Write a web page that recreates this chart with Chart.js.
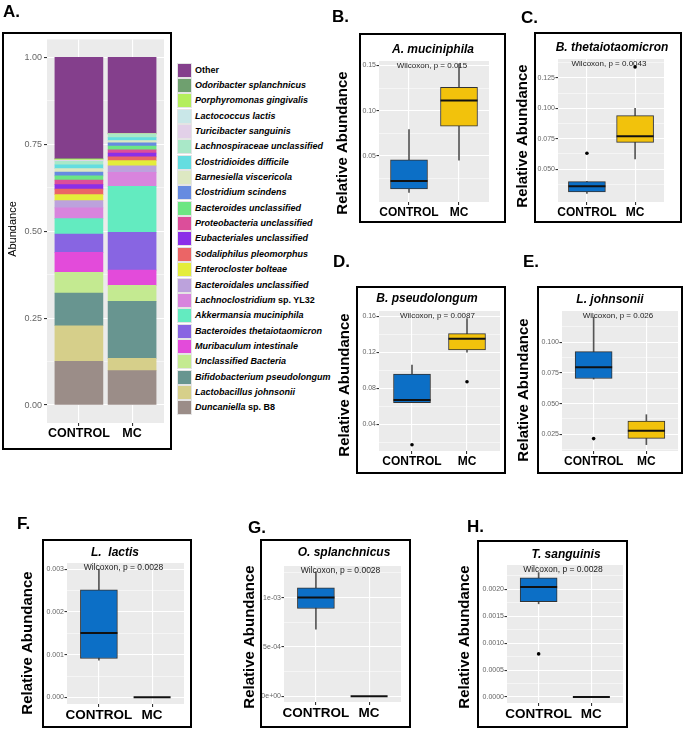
<!DOCTYPE html>
<html>
<head>
<meta charset="utf-8">
<script src="https://cdn.jsdelivr.net/npm/chart.js@4.4.0/dist/chart.umd.min.js"></script>
<style>
  body { margin: 0; width: 685px; height: 731px; background: #fff; position: relative; overflow: hidden;
         font-family: "Liberation Sans", Arial, sans-serif; }
  canvas, .frame, .tag, #legend { position: absolute; }
  .frame { border: 2px solid #000; box-sizing: border-box; pointer-events: none; }
  .tag { font-weight: bold; font-size: 17px; line-height: 1; }
  .key { position: absolute; left: 0; width: 15px; height: 15px; box-sizing: border-box; border: 1px solid #e4e4e4; }
  .name { position: absolute; left: 18px; font-size: 9px; font-weight: bold; white-space: nowrap; line-height: 15px; }
</style>
</head>
<body>
<div id="legend" style="left:177px;top:0"></div>
<script>
const FONT = '"Liberation Sans", Arial, sans-serif';
const groups = ['CONTROL', 'MC'];

// ---- panel A : stacked relative abundance (bottom of the stack first) ----
const taxa = ['Duncaniella sp. B8', 'Lactobacillus johnsonii', 'Bifidobacterium pseudolongum',
  'Unclassified Bacteria', 'Muribaculum intestinale', 'Bacteroides thetaiotaomicron',
  'Akkermansia muciniphila', 'Lachnoclostridium sp. YL32', 'Bacteroidales unclassified',
  'Enterocloster bolteae', 'Sodaliphilus pleomorphus', 'Eubacteriales unclassified',
  'Proteobacteria unclassified', 'Bacteroides unclassified', 'Clostridium scindens',
  'Barnesiella viscericola', 'Clostridioides difficile', 'Lachnospiraceae unclassified',
  'Turicibacter sanguinis', 'Lactococcus lactis', 'Porphyromonas gingivalis',
  'Odoribacter splanchnicus', 'Other'];
const taxaColors = ['#9b8d88', '#d6cf8a', '#689590', '#c4ea91', '#e34bda', '#8865e2',
  '#63ebc0', '#d884dd', '#bca2dc', '#e4ed3b', '#eb6566', '#8b2fe8', '#dc4e9a', '#6ce683',
  '#668be0', '#dde8c2', '#64dde0', '#a9e8c8', '#e2d0e8', '#c9e7e8', '#b4ee5c', '#6fa06f', '#843f8c'];
const controlShare = [0.126, 0.102, 0.094, 0.060, 0.057, 0.053, 0.044, 0.031, 0.021, 0.017, 0.016,
  0.013, 0.013, 0.012, 0.011, 0.010, 0.011, 0.010, 0.002, 0.0015, 0.003, 0.001, 0.2915];
const mcShare = [0.099, 0.035, 0.164, 0.046, 0.044, 0.109, 0.132, 0.040, 0.019, 0.015, 0.011,
  0.011, 0.009, 0.011, 0.009, 0.007, 0.008, 0.010, 0, 0, 0.002, 0, 0.219];
const shareTicks = [0, 0.125, 0.25, 0.375, 0.5, 0.625, 0.75, 0.875, 1];
const shareMajor = [0, 0.25, 0.5, 0.75, 1];
const shareLabels = ['0.00', '0.25', '0.50', '0.75', '1.00'];

// ---- panels B-H : box plots, [low whisker, q1, median, q3, high whisker] ----
const mucControl = [0.0095, 0.0135, 0.0223, 0.0456, 0.0792];
const mucMC = [0.0453, 0.0828, 0.1113, 0.126, 0.152];
const thetaControl = [0.030, 0.0313, 0.036, 0.0398, 0.040];
const thetaMC = [0.0585, 0.072, 0.077, 0.094, 0.100];
const pseudoControl = [0.064, 0.0641, 0.0671, 0.0958, 0.1058];
const pseudoMC = [0.120, 0.1226, 0.1349, 0.1405, 0.1573];
const johnControl = [0.070, 0.0705, 0.0797, 0.0924, 0.1203];
const johnMC = [0.0166, 0.0217, 0.028, 0.0358, 0.041];
const lactisControl = [0.00087, 0.00091, 0.00151, 0.00252, 0.0030];
const lactisMC = [0, 0, 0, 0, 0];
const splanControl = [0.00068, 0.00089, 0.0010, 0.0011, 0.00126];
const splanMC = [0, 0, 0, 0, 0];
const sangControl = [0.00173, 0.00177, 0.00204, 0.00221, 0.00231];
const sangMC = [0, 0, 0, 0, 0];
// outliers
const thetaOutControl = [0.063], thetaOutMC = [0.134];
const pseudoOutControl = [0.0175], pseudoOutMC = [0.0872];
const johnOutControl = [0.0215];
const sangOutControl = [0.0008];
// axis ticks
const mucTicks = [0.025, 0.05, 0.075, 0.10, 0.125, 0.15], mucMajor = [0.05, 0.10, 0.15], mucLabels = ['0.05', '0.10', '0.15'];
const thetaTicks = [0.0375, 0.05, 0.0625, 0.075, 0.0875, 0.10, 0.1125, 0.125, 0.1375];
const thetaMajor = [0.05, 0.075, 0.10, 0.125], thetaLabels = ['0.050', '0.075', '0.100', '0.125'];
const pseudoTicks = [0.02, 0.04, 0.06, 0.08, 0.10, 0.12, 0.14, 0.16];
const pseudoMajor = [0.04, 0.08, 0.12, 0.16], pseudoLabels = ['0.04', '0.08', '0.12', '0.16'];
const johnTicks = [0.0125, 0.025, 0.0375, 0.05, 0.0625, 0.075, 0.0875, 0.10, 0.1125];
const johnMajor = [0.025, 0.05, 0.075, 0.10], johnLabels = ['0.025', '0.050', '0.075', '0.100'];
const lactisTicks = [0, 0.0005, 0.001, 0.0015, 0.002, 0.0025, 0.003];
const lactisMajor = [0, 0.001, 0.002, 0.003], lactisLabels = ['0.000', '0.001', '0.002', '0.003'];
const splanTicks = [0, 0.00025, 0.0005, 0.00075, 0.001, 0.00125];
const splanMajor = [0, 0.0005, 0.001], splanLabels = ['0e+00', '5e-04', '1e-03'];
const sangTicks = [0, 0.00025, 0.0005, 0.00075, 0.001, 0.00125, 0.0015, 0.00175, 0.002, 0.00225];
const sangMajor = [0, 0.0005, 0.001, 0.0015, 0.002];
const sangLabels = ['0.0000', '0.0005', '0.0010', '0.0015', '0.0020'];

const boxPanels = [
  { taxon: 'A. muciniphila', note: 'Wilcoxon, p = 0.015', control: mucControl, mc: mucMC, outControl: [], outMC: [],
    ticks: mucTicks, major: mucMajor, labels: mucLabels, range: [-0.001, 0.155] },
  { taxon: 'B. thetaiotaomicron', note: 'Wilcoxon, p = 0.0043', control: thetaControl, mc: thetaMC,
    outControl: thetaOutControl, outMC: thetaOutMC, ticks: thetaTicks, major: thetaMajor, labels: thetaLabels, range: [0.023, 0.1405] },
  { taxon: 'B. pseudolongum', note: 'Wilcoxon, p = 0.0087', control: pseudoControl, mc: pseudoMC,
    outControl: pseudoOutControl, outMC: pseudoOutMC, ticks: pseudoTicks, major: pseudoMajor, labels: pseudoLabels, range: [0.0105, 0.1656] },
  { taxon: 'L. johnsonii', note: 'Wilcoxon, p = 0.026', control: johnControl, mc: johnMC,
    outControl: johnOutControl, outMC: [], ticks: johnTicks, major: johnMajor, labels: johnLabels, range: [0.0114, 0.1255] },
  { taxon: 'L.  lactis', note: 'Wilcoxon, p = 0.0028', control: lactisControl, mc: lactisMC, outControl: [], outMC: [],
    ticks: lactisTicks, major: lactisMajor, labels: lactisLabels, range: [-0.000156, 0.00315] },
  { taxon: 'O. splanchnicus', note: 'Wilcoxon, p = 0.0028', control: splanControl, mc: splanMC, outControl: [], outMC: [],
    ticks: splanTicks, major: splanMajor, labels: splanLabels, range: [-0.0000574, 0.00132] },
  { taxon: 'T. sanguinis', note: 'Wilcoxon, p = 0.0028', control: sangControl, mc: sangMC,
    outControl: sangOutControl, outMC: [], ticks: sangTicks, major: sangMajor, labels: sangLabels, range: [-0.000111, 0.00245] }
];

// page geometry (absolute px): canvas [l,t,w,h], plot area [l,t,r,b], frame [l,t,r,b]
const frames = [
  { canvas: [331, 33, 175, 190], area: [379, 61, 489, 202], frame: [359, 33, 506, 223], title: [433, 50], yTitle: [343, 143], tag: ['B.', 332, 8] },
  { canvas: [511, 32, 171, 191], area: [558, 59, 664, 202], frame: [534, 32, 682, 223], title: [612, 48], yTitle: [523, 136], tag: ['C.', 521, 9] },
  { canvas: [333, 286, 173, 188], area: [379, 311, 500, 451], frame: [356, 286, 506, 474], title: [427, 299], yTitle: [345, 385], tag: ['D.', 333, 253] },
  { canvas: [512, 286, 171, 188], area: [562, 311, 678, 451], frame: [537, 286, 683, 474], title: [610, 300], yTitle: [524, 390], tag: ['E.', 523, 253] },
  { canvas: [16, 539, 176, 189], area: [67, 563, 184, 704], frame: [42, 539, 192, 728], title: [115, 553], yTitle: [28, 643], tag: ['F.', 17, 515] },
  { canvas: [238, 539, 173, 189], area: [284, 566, 401, 702], frame: [260, 539, 411, 728], title: [344, 553], yTitle: [250, 637], tag: ['G.', 248, 519] },
  { canvas: [453, 540, 175, 188], area: [507, 565, 623, 703], frame: [477, 540, 628, 728], title: [566, 555], yTitle: [465, 637], tag: ['H.', 467, 518] }
];

function addCanvas(c) {
  const cv = document.createElement('canvas');
  cv.width = c[2]; cv.height = c[3];
  cv.style.left = c[0] + 'px'; cv.style.top = c[1] + 'px';
  document.body.appendChild(cv);
  return cv;
}
function addFrame(f) {
  const d = document.createElement('div');
  d.className = 'frame';
  d.style.left = f[0] + 'px'; d.style.top = f[1] + 'px';
  d.style.width = (f[2] - f[0]) + 'px'; d.style.height = (f[3] - f[1]) + 'px';
  document.body.appendChild(d);
}
function addTag(t) {
  const d = document.createElement('div');
  d.className = 'tag'; d.textContent = t[0];
  d.style.left = t[1] + 'px'; d.style.top = t[2] + 'px';
  document.body.appendChild(d);
}

// grey ggplot panel + titles drawn as text
const panelDeco = {
  id: 'panelDeco',
  beforeDraw(chart) {
    const { ctx, chartArea: a } = chart;
    ctx.save();
    ctx.fillStyle = '#ebebeb';
    ctx.fillRect(a.left, a.top, a.right - a.left, a.bottom - a.top);
    ctx.restore();
  },
  afterDraw(chart, args, o) {
    const { ctx, chartArea: a } = chart;
    ctx.save();
    ctx.textAlign = 'center';
    ctx.textBaseline = 'middle';
    ctx.fillStyle = '#000';
    if (o.title) {
      ctx.font = 'italic bold 12px ' + FONT;
      ctx.fillText(o.title, o.titleX, o.titleY);
    }
    if (o.note) {
      ctx.font = o.noteSize + 'px ' + FONT;
      ctx.fillStyle = '#222';
      ctx.fillText(o.note, (a.left + a.right) / 2 - 2, a.top + 5);
    }
    ctx.fillStyle = '#000';
    ctx.translate(o.yTitleX, o.yTitleY);
    ctx.rotate(-Math.PI / 2);
    ctx.font = o.yTitleFont;
    ctx.fillText(o.yTitle, 0, 0);
    ctx.restore();
  }
};

function xScale(height, size) {
  return {
    type: 'linear', min: -0.6, max: 1.6, offset: false,
    afterBuildTicks: s => { s.ticks = groups.map((g, i) => ({ value: i })); },
    afterFit: s => { s.height = height; },
    ticks: { callback: v => groups[v], color: '#000', padding: 0, maxRotation: 0, autoSkip: false,
             font: { family: FONT, size: size, weight: 'bold' } },
    grid: { offset: false, color: '#fff', lineWidth: 1.1, tickLength: 3, tickColor: '#333' },
    border: { display: false }
  };
}
function yScale(range, ticks, major, labels, width, size, tickLen, pad) {
  return {
    type: 'linear', min: range[0], max: range[1],
    afterBuildTicks: s => { s.ticks = ticks.map(v => ({ value: v })); },
    afterFit: s => { s.width = width; },
    ticks: { autoSkip: false, padding: pad, color: '#666', font: { family: FONT, size: size },
             callback: v => { const i = major.indexOf(v); return i < 0 ? '' : labels[i]; } },
    grid: {
      color: '#fff', tickLength: tickLen,
      lineWidth: c => (c.tick && major.includes(c.tick.value)) ? 1.1 : 0.5,
      tickColor: c => (c.tick && major.includes(c.tick.value)) ? '#333' : 'rgba(0,0,0,0)'
    },
    border: { display: false }
  };
}

// ---- panel A ----
(function () {
  const c = [2, 32, 170, 418], area = [47, 39, 164, 423];
  const cv = addCanvas(c);
  new Chart(cv, {
    type: 'bar',
    data: {
      datasets: taxa.map((t, i) => ({
        label: t,
        data: [{ x: 0, y: controlShare[i] }, { x: 1, y: mcShare[i] }],
        backgroundColor: taxaColors[i], borderWidth: 0, barThickness: 48
      }))
    },
    options: {
      responsive: false, animation: false,
      layout: { autoPadding: false, padding: { left: 0, top: area[1] - c[1], right: c[0] + c[2] - area[2], bottom: 0 } },
      plugins: {
        legend: { display: false }, tooltip: { enabled: false },
        panelDeco: { yTitle: 'Abundance', yTitleX: 13 - c[0], yTitleY: 229 - c[1], yTitleFont: '11px ' + FONT }
      },
      scales: {
        x: Object.assign(xScale(c[1] + c[3] - area[3], 12.5), { stacked: true }),
        y: Object.assign(yScale([-0.0517, 1.0517], shareTicks, shareMajor, shareLabels, area[0] - c[0], 9, 3, 2), { stacked: true })
      }
    },
    plugins: [panelDeco]
  });
  addFrame([2, 32, 172, 450]);
  addTag(['A.', 3, 3]);

  // legend, top entry = top of the stack
  const lg = document.getElementById('legend');
  for (let k = taxa.length - 1, row = 0; k >= 0; k--, row++) {
    const cy = 70 + row * 15.36;
    const key = document.createElement('div');
    key.className = 'key';
    key.style.top = (cy - 7.5) + 'px';
    key.style.background = taxaColors[k];
    lg.appendChild(key);
    const nm = document.createElement('div');
    nm.className = 'name';
    nm.style.top = (cy - 7.5) + 'px';
    const name = taxa[k];
    if (name === 'Other') nm.textContent = name;
    else if (name.includes(' sp. ')) {
      const parts = name.split(' sp. ');
      nm.innerHTML = '<i>' + parts[0] + '</i> sp. ' + parts[1];
    } else nm.innerHTML = '<i>' + name + '</i>';
    lg.appendChild(nm);
  }
})();

// ---- panels B-H ----
function boxDatasets(p, width) {
  const ctrlFill = '#0c6fc6', mcFill = '#f2c20c';
  return [
    { type: 'bar', data: [{ x: 0, y: [p.control[0], p.control[4]] }, { x: 1, y: [p.mc[0], p.mc[4]] }],
      backgroundColor: '#555', barThickness: 1, grouped: false, order: 4 },
    { type: 'bar', data: [{ x: 0, y: [p.control[1], p.control[3]] }, { x: 1, y: [p.mc[1], p.mc[3]] }],
      backgroundColor: [ctrlFill, mcFill], borderColor: '#333', borderWidth: 1, borderSkipped: false,
      barThickness: width, grouped: false, order: 3 },
    { type: 'line', data: [{ x: 0, y: p.control[2] }, { x: 1, y: p.mc[2] }], showLine: false,
      pointStyle: 'line', pointRadius: width / 2, pointBorderWidth: 2, pointBorderColor: '#111', order: 2 },
    { type: 'line', data: p.outControl.map(v => ({ x: 0, y: v })).concat(p.outMC.map(v => ({ x: 1, y: v }))),
      showLine: false, pointStyle: 'circle', pointRadius: 1.8, pointBackgroundColor: '#000', pointBorderWidth: 0, order: 1 }
  ];
}

boxPanels.forEach((p, i) => {
  const f = frames[i];
  const c = f.canvas, area = f.area;
  const bottomRow = c[1] > 500;
  const cv = addCanvas(c);
  new Chart(cv, {
    type: 'bar',
    data: { datasets: boxDatasets(p, 37) },
    options: {
      responsive: false, animation: false,
      layout: { autoPadding: false, padding: { left: 0, top: area[1] - c[1], right: c[0] + c[2] - area[2], bottom: 0 } },
      plugins: {
        legend: { display: false }, tooltip: { enabled: false },
        panelDeco: {
          title: p.taxon, titleX: f.title[0] - c[0], titleY: f.title[1] - c[1],
          note: p.note, noteSize: bottomRow ? 8.5 : 8,
          yTitle: 'Relative Abundance', yTitleX: f.yTitle[0] - c[0], yTitleY: f.yTitle[1] - c[1],
          yTitleFont: 'bold 15px ' + FONT
        }
      },
      scales: {
        x: xScale(c[1] + c[3] - area[3], bottomRow ? 13.5 : 12),
        y: yScale(p.range, p.ticks, p.major, p.labels, area[0] - c[0], 7, 2.5, 0.5)
      }
    },
    plugins: [panelDeco]
  });
  addFrame(f.frame);
  addTag(f.tag);
});
</script>
</body>
</html>
